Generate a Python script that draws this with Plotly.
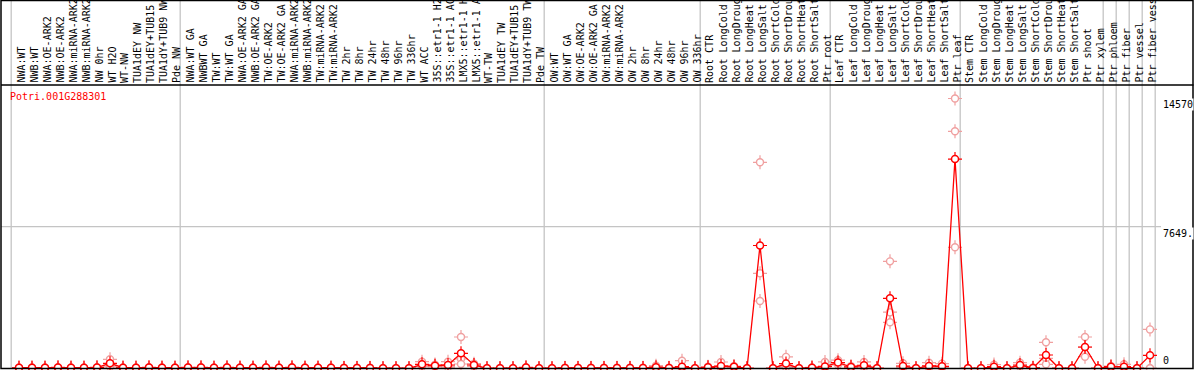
import plotly.graph_objects as go

# ---------------- data ----------------
gene = "Potri.001G288301"

labels = [
    "NWA:WT", "NWB:WT", "NWA:OE-ARK2", "NWB:OE-ARK2", "NWA:miRNA-ARK2", "NWB:miRNA-ARK2",
    "NW 0hr", "WT H2O", "WT-NW", "TUA1dEY NW", "TUA1dEY+TUB15 NW", "TUA1dY+TUB9 NW", "Pde NW",
    "NWA:WT GA", "NWBWT GA", "TW:WT", "TW:WT GA", "NWA:OE-ARK2 GA", "NWB:OE-ARK2 GA",
    "TW:OE-ARK2", "TW:OE-ARK2 GA", "NWA:miRNA-ARK2", "NWB:miRNA-ARK2", "TW:miRNA-ARK2",
    "TW:miRNA-ARK2", "TW 2hr", "TW 8hr", "TW 24hr", "TW 48hr", "TW 96hr", "TW 336hr",
    "WT ACC", "35S::etr1-1 H2O", "35S::etr1-1 ACC", "LMX5::etr1-1 H2O", "LMX5::etr1-1 ACC",
    "WT-TW", "TUA1dEY TW", "TUA1dEY+TUB15 TW", "TUA1dY+TUB9 TW", "Pde TW",
    "OW:WT", "OW:WT GA", "OW:OE-ARK2", "OW:OE-ARK2 GA", "OW:miRNA-ARK2", "OW:miRNA-ARK2",
    "OW 2hr", "OW 8hr", "OW 24hr", "OW 48hr", "OW 96hr", "OW 336hr",
    "Root CTR", "Root LongCold", "Root LongDrought", "Root LongHeat", "Root LongSalt",
    "Root ShortCold", "Root ShortDrought", "Root ShortHeat", "Root ShortSalt", "Ptr root",
    "Leaf CTR", "Leaf LongCold", "Leaf LongDrought", "Leaf LongHeat", "Leaf LongSalt",
    "Leaf ShortCold", "Leaf ShortDrought", "Leaf ShortHeat", "Leaf ShortSalt", "Ptr leaf",
    "Stem CTR", "Stem LongCold", "Stem LongDrought", "Stem LongHeat", "Stem LongSalt",
    "Stem ShortCold", "Stem ShortDrought", "Stem ShortHeat", "Stem ShortSalt", "Ptr shoot",
    "Ptr xylem", "Ptr phloem", "Ptr fiber", "Ptr vessel", "Ptr fiber vessel",
]

means = (
    [30, 30, 30, 40, 30, 30, 40, 270, 30, 30, 40, 30, 30]
    + [40, 40, 30, 40, 30, 30, 40, 30, 40, 30, 30, 30, 20, 20, 20]
    + [0, 0, 0, 216, 140, 178, 810, 178, 0, 0, 0, 40, 0]
    + [0, 20, 20, 20, 20, 20, 20, 20, 60, 20, 86, 0]
    + [54, 124, 86, 0, 6630, 0, 257, 0, 30, 100]
    + [310, 73, 164, 0, 3780, 124, 0, 128, 109, 11300]
    + [0, 0, 86, 0, 178, 20, 718, 0, 0, 1150, 0, 86, 86, 0, 700]
)

rep1 = (
    [40, 40, 40, 60, 40, 40, 60, 486, 40, 40, 60, 40, 40]
    + [60, 60, 40, 60, 40, 40, 60, 40, 60, 40, 40, 40, 30, 30, 30]
    + [0, 0, 0, 356, 200, 356, 1690, 250, 0, 0, 0, 60, 0]
    + [0, 30, 30, 30, 30, 30, 30, 30, 140, 30, 410, 0]
    + [80, 340, 120, 0, 11124, 0, 617, 0, 50, 344]
    + [437, 120, 344, 0, 5775, 270, 0, 302, 250, 14570]
    + [0, 0, 200, 0, 302, 40, 1404, 0, 0, 1690, 0, 120, 216, 0, 2100]
)
rep2 = (
    [30, 30, 30, 40, 30, 30, 40, 250, 30, 30, 40, 30, 30]
    + [40, 40, 30, 40, 30, 30, 40, 30, 40, 30, 30, 30, 20, 20, 20]
    + [0, 0, 0, 200, 140, 120, 508, 178, 0, 0, 0, 40, 0]
    + [0, 20, 20, 20, 20, 20, 20, 20, 30, 20, 0, 0]
    + [50, 30, 90, 0, 5130, 0, 100, 0, 30, 0]
    + [300, 70, 100, 0, 3030, 80, 0, 60, 60, 12798]
    + [0, 0, 50, 0, 150, 20, 534, 0, 0, 1133, 0, 90, 40, 0, 0]
)
rep3 = (
    [20, 20, 20, 20, 20, 20, 20, 80, 20, 20, 20, 20, 20]
    + [20, 20, 20, 20, 20, 20, 20, 20, 20, 20, 20, 20, 10, 10, 10]
    + [0, 0, 0, 90, 80, 60, 232, 100, 0, 0, 0, 20, 0]
    + [0, 10, 10, 10, 10, 10, 10, 10, 10, 10, 0, 0]
    + [30, 0, 50, 0, 3634, 0, 50, 0, 10, 0]
    + [190, 30, 50, 0, 2484, 20, 0, 20, 20, 6534]
    + [0, 0, 10, 0, 80, 0, 216, 0, 0, 627, 0, 50, 0, 0, 0]
)

group_bounds = [-0.5, 12.5, 40.5, 52.5, 62.5, 72.5, 83.5, 84.5, 85.5, 86.5, 87.5]
y_max = 15298.5
ytick_vals = [14570, 7649.25, 0]
ytick_text = ["14570", "7649.", "0"]

# ---------------- geometry helpers ----------------
W, H = 1194, 370
X0, DX = 19.0, 13.0          # pixel of first category, pixel step
Y0PX, YTOPPX = 368.3, 85.0   # pixel of value 0 and of y_max
SC = (Y0PX - YTOPPX) / y_max


def xd(px):
    return (px - X0) / DX


def yd(py):
    return (Y0PX - py) / SC


x = list(range(len(labels)))
RED = "#FF0000"
PINK = "#F0A0A0"
GRAY = "#C4C4C4"
FONT = "DejaVu Sans Mono"

fig = go.Figure()

# replicates
rx = x * 3
ry = rep1 + rep2 + rep3
fig.add_trace(go.Scatter(x=rx, y=ry, mode="markers", hoverinfo="skip", cliponaxis=False,
                         marker=dict(symbol="cross-thin-open", size=10, color=PINK,
                                     line=dict(color=PINK, width=1.2))))
fig.add_trace(go.Scatter(x=rx, y=ry, mode="markers", cliponaxis=False,
                         marker=dict(symbol="circle", size=7, color="white",
                                     line=dict(color=PINK, width=1.4))))
# mean line + markers
fig.add_trace(go.Scatter(x=x, y=means, mode="lines", cliponaxis=False,
                         line=dict(color=RED, width=1.3)))
fig.add_trace(go.Scatter(x=x, y=means, mode="markers", hoverinfo="skip", cliponaxis=False,
                         marker=dict(symbol="cross-thin-open", size=10, color=RED,
                                     line=dict(color=RED, width=1.2))))
fig.add_trace(go.Scatter(x=x, y=means, mode="markers", text=labels, cliponaxis=False,
                         marker=dict(symbol="circle", size=7, color="white",
                                     line=dict(color=RED, width=1.5))))

shapes = []
# group separators
for b in group_bounds:
    shapes.append(dict(type="line", xref="x", yref="y", x0=b - 0.1, x1=b - 0.1,
                       y0=yd(0), y1=yd(368), layer="below",
                       line=dict(color=GRAY, width=1.3)))
# mid gridline
shapes.append(dict(type="line", xref="x", yref="y", x0=xd(1), x1=xd(1161),
                   y0=ytick_vals[1], y1=ytick_vals[1], layer="below",
                   line=dict(color=GRAY, width=1.3)))
# header bottom line
shapes.append(dict(type="line", xref="x", yref="y", x0=xd(1), x1=xd(1193.5),
                   y0=yd(85), y1=yd(85), line=dict(color="black", width=1.5)))
# outer border
shapes.append(dict(type="rect", xref="x", yref="y", x0=xd(1), x1=xd(1193),
                   y0=yd(368.5), y1=yd(0.5), line=dict(color="black", width=1.5)))

annotations = []
for k, lab in enumerate(labels):
    annotations.append(dict(x=k, y=yd(84), xref="x", yref="y", text=lab,
                            textangle=-90, xanchor="center", yanchor="bottom",
                            xshift=1.5, showarrow=False, borderpad=0,
                            font=dict(family=FONT, size=10, color="black")))
annotations.append(dict(x=xd(9), y=yd(90), xref="x", yref="y", text=gene,
                        xanchor="left", yanchor="top", showarrow=False,
                        borderpad=0, font=dict(family=FONT, size=10, color=RED)))
for v, t in zip(ytick_vals, ytick_text):
    annotations.append(dict(x=xd(1162), y=(yd(367) if v == 0 else v), xref="x", yref="y",
                            text=t, xanchor="left",
                            yanchor=("bottom" if v == 0 else "top"),
                            showarrow=False, borderpad=0, bgcolor="white",
                            font=dict(family=FONT, size=10, color="black")))

fig.update_layout(
    width=W, height=H, margin=dict(l=0, r=0, t=0, b=0),
    paper_bgcolor="white", plot_bgcolor="white", showlegend=False,
    xaxis=dict(range=[xd(0), xd(W)], visible=False, fixedrange=True),
    yaxis=dict(range=[yd(H), yd(0)], visible=False, fixedrange=True),
    shapes=shapes, annotations=annotations,
)

# remove the browser's default 8px body margin so the figure sits at the page origin
fig.write_html("out.html", config={"displayModeBar": False},
               post_script="document.body.style.margin='0px';document.body.style.overflow='hidden';")
